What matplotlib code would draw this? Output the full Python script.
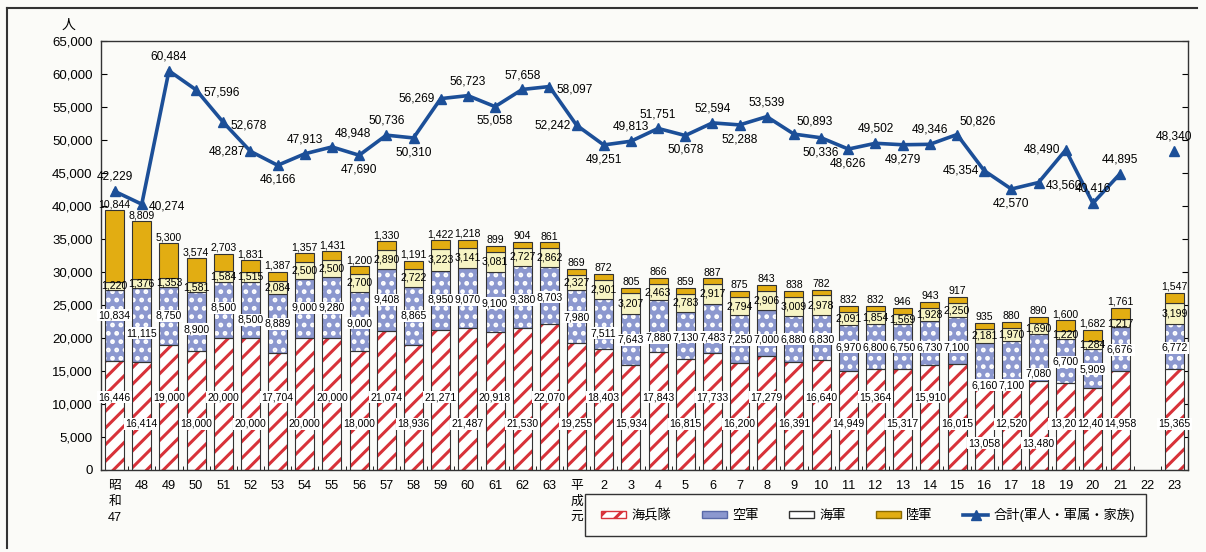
import numpy as np
import matplotlib.pyplot as plt
from matplotlib.patches import Patch, Rectangle
from matplotlib.lines import Line2D

plt.rcParams['font.family'] = ['Liberation Sans', 'Noto Sans CJK JP', 'DejaVu Sans']
plt.rcParams['hatch.linewidth'] = 2.2

# ------------------------------
# Data (人)
# ------------------------------
years = ['昭\n和\n47'] + [str(y) for y in range(48, 64)] + ['平\n成\n元'] + [str(y) for y in range(2, 24)]

nan = np.nan
marines = [16446, 16414, 19000, 18000, 20000, 20000, 17704, 20000, 20000, 18000,
           21074, 18936, 21271, 21487, 20918, 21530, 22070, 19255, 18403, 15934,
           17843, 16815, 17733, 16200, 17279, 16391, 16640, 14949, 15364, 15317,
           15910, 16015, 13058, 12520, 13480, 13200, 12402, 14958, nan, 15365]
airforce = [10834, 11115, 8750, 8900, 8500, 8500, 8889, 9000, 9280, 9000,
            9408, 8865, 8950, 9070, 9100, 9380, 8703, 7980, 7511, 7643,
            7880, 7130, 7483, 7250, 7000, 6880, 6830, 6970, 6800, 6750,
            6730, 7100, 6160, 7100, 7080, 6700, 5909, 6676, nan, 6772]
navy = [1220, 1376, 1353, 1581, 1584, 1515, 2084, 2500, 2500, 2700,
        2890, 2722, 3223, 3141, 3081, 2727, 2862, 2327, 2901, 3207,
        2463, 2783, 2917, 2794, 2906, 3009, 2978, 2091, 1854, 1569,
        1928, 2250, 2181, 1970, 1690, 1220, 1284, 1217, nan, 3199]
army = [10844, 8809, 5300, 3574, 2703, 1831, 1387, 1357, 1431, 1200,
        1330, 1191, 1422, 1218, 899, 904, 861, 869, 872, 805,
        866, 859, 887, 875, 843, 838, 782, 832, 832, 946,
        943, 917, 935, 880, 890, 1600, 1682, 1761, nan, 1547]
total = [42229, 40274, 60484, 57596, 52678, 48287, 46166, 47913, 48948, 47690,
         50736, 50310, 56269, 56723, 55058, 57658, 58097, 52242, 49251, 49813,
         51751, 50678, 52594, 52288, 53539, 50893, 50336, 48626, 49502, 49279,
         49346, 50826, 45354, 42570, 43560, 48490, 40416, 44895, nan, 48340]

# label placement for the total line: a=above, R=above right, b=below, l=left, r=right
total_pos = ['a', 'r', 'a', 'r', 'r', 'l', 'b', 'a', 'R', 'b',
             'a', 'b', 'l', 'a', 'b', 'a', 'r', 'l', 'b', 'a',
             'a', 'b', 'a', 'b', 'a', 'R', 'b', 'b', 'a', 'b',
             'a', 'R', 'l', 'b', 'r', 'l', 'a', 'a', 'a', 'a']
# marine label rows: u=upper, l=lower, b=bottom (pixel rows in the 1206x552 picture)
marine_row = ['u', 'l'] * 16 + ['b', 'l', 'b', 'l', 'l', 'l', 'l', 'l']
row_px = {'u': 397, 'l': 424, 'b': 443}
# air force label rows (pixel rows)
air_px = [315, 333, 316, 329, 308, 320, 324, 308, 308, 323,
          300, 316, 300, 300, 303, 300, 297, 317, 333, 340,
          338, 337, 337, 340, 340, 339, 339, 347, 347, 347,
          347, 347, 385, 385, 374, 362, 369, 350, 0, 348]


def px2val(py):
    return (470 - py) / 429 * 65000


# ------------------------------
# Colours
# ------------------------------
RED = '#d8323a'
BLUE = '#8c98cf'
CREAM = '#f7f4c4'
GOLD = '#e2ad12'
LINE = '#1c4f98'
BG = '#fbfbf8'

x = np.arange(len(years))
m = np.array(marines, float)
a = np.array(airforce, float)
n = np.array(navy, float)
g = np.array(army, float)
ok = ~np.isnan(m)
xo = x[ok]

fig = plt.figure(figsize=(12.06, 5.52), dpi=100, facecolor=BG)
ax = fig.add_axes([101 / 1206, 1 - 470 / 552, 1087 / 1206, 429 / 552])
ax.set_facecolor(BG)

w = 0.7
# marines: hatched, then outline
ax.bar(xo, m[ok], w, color='white', edgecolor=RED, hatch='//', linewidth=0, zorder=2)
ax.bar(xo, m[ok], w, fill=False, edgecolor='#333333', linewidth=0.8, zorder=3)
b1 = m + a
ax.bar(xo, a[ok], w, bottom=m[ok], color=BLUE, edgecolor='white', hatch='..', linewidth=0, zorder=2)
ax.bar(xo, a[ok], w, bottom=m[ok], fill=False, edgecolor='#333333', linewidth=0.8, zorder=3)
b2 = b1 + n
ax.bar(xo, n[ok], w, bottom=b1[ok], color=CREAM, edgecolor='#333333', linewidth=0.8, zorder=3)
ax.bar(xo, g[ok], w, bottom=b2[ok], color=GOLD, edgecolor='#333333', linewidth=0.8, zorder=3)

lbl = dict(fontsize=7.6, ha='center', zorder=6)
box = dict(boxstyle='square,pad=0.12', facecolor='white', edgecolor='none')
for i in xo:
    ax.text(i, px2val(row_px[marine_row[i]]), f'{marines[i]:,}', va='center', bbox=box, **lbl)
    ax.text(i, px2val(air_px[i]), f'{airforce[i]:,}', va='center', bbox=box, **lbl)
    ax.text(i, b1[i] + n[i] / 2, f'{navy[i]:,}', va='center', **lbl)
    ax.text(i, b2[i] + g[i] + 120, f'{army[i]:,}', va='bottom', **lbl)

# total line
ax.plot(x, total, color=LINE, lw=2.6, marker='^', ms=7, zorder=5)
offs = {'a': ((0, 6), 'center', 'bottom'), 'b': ((0, -6), 'center', 'top'),
        'R': ((2, 5), 'left', 'bottom'),
        'l': ((-4, 0), 'right', 'center'), 'r': ((5, -2), 'left', 'center')}
for i in x:
    if np.isnan(total[i]):
        continue
    (dx, dy), ha, va = offs[total_pos[i]]
    ax.annotate(f'{total[i]:,}', (i, total[i]), xytext=(dx, dy), textcoords='offset points',
                ha=ha, va=va, fontsize=8.6, zorder=6)

# ------------------------------
# Axes styling
# ------------------------------
ax.set_xlim(-0.5, len(years) - 0.5)
ax.set_ylim(0, 65000)
ax.set_yticks(np.arange(0, 65001, 5000))
ax.set_yticklabels([f'{v:,}' for v in range(0, 65001, 5000)], fontsize=9.5)
ax.tick_params(axis='y', direction='in', length=4, right=True, pad=6)
ax.set_xticks(x)
ax.set_xticklabels(years, fontsize=9.2, va='top', linespacing=1.45)
ax.tick_params(axis='x', length=0, pad=7)
ax.set_xticks(np.arange(-0.5, len(years), 1), minor=True)
ax.tick_params(axis='x', which='minor', direction='in', length=3)
for s in ax.spines.values():
    s.set_linewidth(1.0)
    s.set_color('#333333')

fig.text(68 / 1206, 1 - 25 / 552, '人', fontsize=10, ha='center', va='center')

# outer frame
fig.add_artist(Line2D([7 / 1206, 1197 / 1206], [1 - 8 / 552] * 2, color='#333333', lw=1.5))
fig.add_artist(Line2D([7 / 1206] * 2, [1 - 8 / 552, 1 - 548 / 552], color='#333333', lw=1.5))

# legend
fig.add_artist(Rectangle((585 / 1206, 1 - 536 / 552), 561 / 1206, 42 / 552,
                         transform=fig.transFigure, facecolor=BG, edgecolor='#333333', lw=1.0))
handles = [Patch(facecolor='white', edgecolor=RED, hatch='//'),
           Patch(facecolor=BLUE, edgecolor='#5a6aa8'),
           Patch(facecolor='white', edgecolor='#333333'),
           Patch(facecolor=GOLD, edgecolor='#8a6a00'),
           Line2D([], [], color=LINE, lw=2.6, marker='^', ms=7)]
labels = ['海兵隊', '空軍', '海軍', '陸軍', '合計(軍人・軍属・家族)']
leg = fig.legend(handles, labels, loc='center', bbox_to_anchor=(868 / 1206, 1 - 515 / 552),
                 ncol=5, fontsize=9.5, frameon=False,
                 handlelength=1.9, handleheight=0.4, columnspacing=2.3, handletextpad=0.4)

plt.savefig('out.png', dpi=100, facecolor=BG)
